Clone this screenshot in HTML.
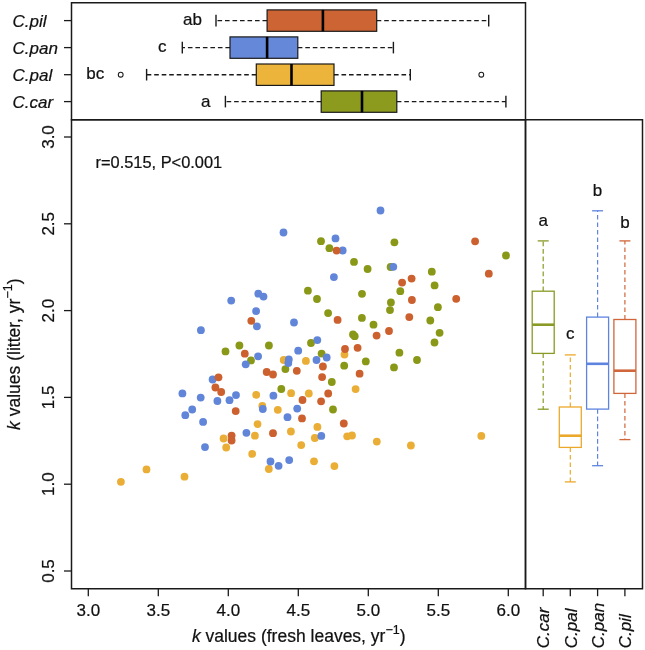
<!DOCTYPE html><html><head><meta charset="utf-8"><style>html,body{margin:0;padding:0;background:#fff;}svg{display:block;}text{font-family:"Liberation Sans",sans-serif;fill:#111;stroke:#111;stroke-width:0.22px;}svg{will-change:transform;}</style></head><body>
<svg width="645" height="650" viewBox="0 0 645 650">
<rect width="645" height="650" fill="#fff"/>
<rect x="71.5" y="2.75" width="454" height="117" fill="none" stroke="#1a1a1a" stroke-width="1.5"/>
<line x1="64" y1="20.6" x2="71.5" y2="20.6" stroke="#1a1a1a" stroke-width="1.3"/>
<text x="12.5" y="26.7" font-size="17" font-style="italic">C.pil</text>
<line x1="267.1" y1="20.6" x2="216" y2="20.6" stroke="#1a1a1a" stroke-width="1.4" stroke-dasharray="4.6 2.9"/>
<line x1="376.7" y1="20.6" x2="488.7" y2="20.6" stroke="#1a1a1a" stroke-width="1.4" stroke-dasharray="4.6 2.9"/>
<line x1="216" y1="14.8" x2="216" y2="26.400000000000002" stroke="#1a1a1a" stroke-width="1.4"/>
<line x1="488.7" y1="14.8" x2="488.7" y2="26.400000000000002" stroke="#1a1a1a" stroke-width="1.4"/>
<rect x="267.1" y="9.900000000000002" width="109.59999999999997" height="21.4" fill="#CC6434" stroke="#1a1a1a" stroke-width="1.2"/>
<line x1="322.9" y1="9.900000000000002" x2="322.9" y2="31.3" stroke="#000" stroke-width="2.6"/>
<line x1="64" y1="47.6" x2="71.5" y2="47.6" stroke="#1a1a1a" stroke-width="1.3"/>
<text x="12.5" y="53.7" font-size="17" font-style="italic">C.pan</text>
<line x1="230" y1="47.6" x2="182.3" y2="47.6" stroke="#1a1a1a" stroke-width="1.4" stroke-dasharray="4.6 2.9"/>
<line x1="297.8" y1="47.6" x2="393.4" y2="47.6" stroke="#1a1a1a" stroke-width="1.4" stroke-dasharray="4.6 2.9"/>
<line x1="182.3" y1="41.800000000000004" x2="182.3" y2="53.4" stroke="#1a1a1a" stroke-width="1.4"/>
<line x1="393.4" y1="41.800000000000004" x2="393.4" y2="53.4" stroke="#1a1a1a" stroke-width="1.4"/>
<rect x="230" y="36.900000000000006" width="67.80000000000001" height="21.4" fill="#6688D8" stroke="#1a1a1a" stroke-width="1.2"/>
<line x1="267.1" y1="36.900000000000006" x2="267.1" y2="58.3" stroke="#000" stroke-width="2.6"/>
<line x1="64" y1="74.7" x2="71.5" y2="74.7" stroke="#1a1a1a" stroke-width="1.3"/>
<text x="12.5" y="80.8" font-size="17" font-style="italic">C.pal</text>
<line x1="256.3" y1="74.7" x2="146.6" y2="74.7" stroke="#1a1a1a" stroke-width="1.4" stroke-dasharray="4.6 2.9"/>
<line x1="334" y1="74.7" x2="410.3" y2="74.7" stroke="#1a1a1a" stroke-width="1.4" stroke-dasharray="4.6 2.9"/>
<line x1="146.6" y1="68.9" x2="146.6" y2="80.5" stroke="#1a1a1a" stroke-width="1.4"/>
<line x1="410.3" y1="68.9" x2="410.3" y2="80.5" stroke="#1a1a1a" stroke-width="1.4"/>
<rect x="256.3" y="64.0" width="77.69999999999999" height="21.4" fill="#EDB43C" stroke="#1a1a1a" stroke-width="1.2"/>
<line x1="291.5" y1="64.0" x2="291.5" y2="85.4" stroke="#000" stroke-width="2.6"/>
<circle cx="120.7" cy="74.7" r="2.4" fill="none" stroke="#1a1a1a" stroke-width="1.05"/>
<circle cx="481.3" cy="74.7" r="2.4" fill="none" stroke="#1a1a1a" stroke-width="1.05"/>
<line x1="64" y1="101.6" x2="71.5" y2="101.6" stroke="#1a1a1a" stroke-width="1.3"/>
<text x="12.5" y="107.7" font-size="17" font-style="italic">C.car</text>
<line x1="321.2" y1="101.6" x2="225.4" y2="101.6" stroke="#1a1a1a" stroke-width="1.4" stroke-dasharray="4.6 2.9"/>
<line x1="396.8" y1="101.6" x2="505.9" y2="101.6" stroke="#1a1a1a" stroke-width="1.4" stroke-dasharray="4.6 2.9"/>
<line x1="225.4" y1="95.8" x2="225.4" y2="107.39999999999999" stroke="#1a1a1a" stroke-width="1.4"/>
<line x1="505.9" y1="95.8" x2="505.9" y2="107.39999999999999" stroke="#1a1a1a" stroke-width="1.4"/>
<rect x="321.2" y="90.89999999999999" width="75.60000000000002" height="21.4" fill="#8C9A1E" stroke="#1a1a1a" stroke-width="1.2"/>
<line x1="362" y1="90.89999999999999" x2="362" y2="112.3" stroke="#000" stroke-width="2.6"/>
<text x="183" y="24.9" font-size="17">ab</text>
<text x="158" y="52.3" font-size="17">c</text>
<text x="86.2" y="79.2" font-size="17">bc</text>
<text x="201" y="106.8" font-size="17">a</text>
<rect x="71.5" y="119.75" width="454" height="469" fill="none" stroke="#1a1a1a" stroke-width="1.5"/>
<line x1="64" y1="571.0" x2="71.5" y2="571.0" stroke="#1a1a1a" stroke-width="1.3"/>
<text transform="translate(54 571.0) rotate(-90)" text-anchor="middle" font-size="17">0.5</text>
<line x1="64" y1="484.2" x2="71.5" y2="484.2" stroke="#1a1a1a" stroke-width="1.3"/>
<text transform="translate(54 484.2) rotate(-90)" text-anchor="middle" font-size="17">1.0</text>
<line x1="64" y1="397.4" x2="71.5" y2="397.4" stroke="#1a1a1a" stroke-width="1.3"/>
<text transform="translate(54 397.4) rotate(-90)" text-anchor="middle" font-size="17">1.5</text>
<line x1="64" y1="310.6" x2="71.5" y2="310.6" stroke="#1a1a1a" stroke-width="1.3"/>
<text transform="translate(54 310.6) rotate(-90)" text-anchor="middle" font-size="17">2.0</text>
<line x1="64" y1="223.8" x2="71.5" y2="223.8" stroke="#1a1a1a" stroke-width="1.3"/>
<text transform="translate(54 223.8) rotate(-90)" text-anchor="middle" font-size="17">2.5</text>
<line x1="64" y1="137.0" x2="71.5" y2="137.0" stroke="#1a1a1a" stroke-width="1.3"/>
<text transform="translate(54 137.0) rotate(-90)" text-anchor="middle" font-size="17">3.0</text>
<line x1="88.3" y1="588.6" x2="88.3" y2="596.2" stroke="#1a1a1a" stroke-width="1.3"/>
<text x="88.3" y="615.6" text-anchor="middle" font-size="17">3.0</text>
<line x1="158.3" y1="588.6" x2="158.3" y2="596.2" stroke="#1a1a1a" stroke-width="1.3"/>
<text x="158.3" y="615.6" text-anchor="middle" font-size="17">3.5</text>
<line x1="228.3" y1="588.6" x2="228.3" y2="596.2" stroke="#1a1a1a" stroke-width="1.3"/>
<text x="228.3" y="615.6" text-anchor="middle" font-size="17">4.0</text>
<line x1="298.3" y1="588.6" x2="298.3" y2="596.2" stroke="#1a1a1a" stroke-width="1.3"/>
<text x="298.3" y="615.6" text-anchor="middle" font-size="17">4.5</text>
<line x1="368.3" y1="588.6" x2="368.3" y2="596.2" stroke="#1a1a1a" stroke-width="1.3"/>
<text x="368.3" y="615.6" text-anchor="middle" font-size="17">5.0</text>
<line x1="438.3" y1="588.6" x2="438.3" y2="596.2" stroke="#1a1a1a" stroke-width="1.3"/>
<text x="438.3" y="615.6" text-anchor="middle" font-size="17">5.5</text>
<line x1="508.3" y1="588.6" x2="508.3" y2="596.2" stroke="#1a1a1a" stroke-width="1.3"/>
<text x="508.3" y="615.6" text-anchor="middle" font-size="17">6.0</text>
<text x="298.7" y="642.2" text-anchor="middle" font-size="17.5"><tspan font-style="italic">k</tspan> values (fresh leaves, yr<tspan dy="-8.5" font-size="12.5">−1</tspan><tspan dy="8.5">)</tspan></text>
<text transform="translate(20 354.2) rotate(-90)" text-anchor="middle" font-size="17.5"><tspan font-style="italic">k</tspan> values (litter, yr<tspan dy="-8.5" font-size="12.5">−1</tspan><tspan dy="8.5">)</tspan></text>
<text x="95.5" y="168.2" font-size="16.4">r=0.515, P&lt;0.001</text>
<circle cx="321" cy="241.2" r="3.9" fill="#8A9818"/>
<circle cx="329.4" cy="248.2" r="3.9" fill="#8A9818"/>
<circle cx="354" cy="261.9" r="3.9" fill="#8A9818"/>
<circle cx="367.6" cy="269" r="3.9" fill="#8A9818"/>
<circle cx="307.9" cy="290.7" r="3.9" fill="#8A9818"/>
<circle cx="362" cy="293.8" r="3.9" fill="#8A9818"/>
<circle cx="317" cy="299" r="3.9" fill="#8A9818"/>
<circle cx="394.4" cy="242.3" r="3.9" fill="#8A9818"/>
<circle cx="506" cy="255.5" r="3.9" fill="#8A9818"/>
<circle cx="390.6" cy="267" r="3.9" fill="#8A9818"/>
<circle cx="431.8" cy="271.7" r="3.9" fill="#8A9818"/>
<circle cx="434.6" cy="285.4" r="3.9" fill="#8A9818"/>
<circle cx="400.3" cy="291.2" r="3.9" fill="#8A9818"/>
<circle cx="390.9" cy="302.5" r="3.9" fill="#8A9818"/>
<circle cx="390" cy="310.1" r="3.9" fill="#8A9818"/>
<circle cx="437.9" cy="307.2" r="3.9" fill="#8A9818"/>
<circle cx="328.1" cy="313.1" r="3.9" fill="#8A9818"/>
<circle cx="361.9" cy="317.9" r="3.9" fill="#8A9818"/>
<circle cx="430.3" cy="320.5" r="3.9" fill="#8A9818"/>
<circle cx="373.5" cy="324.7" r="3.9" fill="#8A9818"/>
<circle cx="439.6" cy="332.8" r="3.9" fill="#8A9818"/>
<circle cx="353" cy="334.5" r="3.9" fill="#8A9818"/>
<circle cx="354.7" cy="336.2" r="3.9" fill="#8A9818"/>
<circle cx="434.5" cy="342.5" r="3.9" fill="#8A9818"/>
<circle cx="399.4" cy="352.7" r="3.9" fill="#8A9818"/>
<circle cx="417" cy="360" r="3.9" fill="#8A9818"/>
<circle cx="365.8" cy="361.4" r="3.9" fill="#8A9818"/>
<circle cx="344.2" cy="365.7" r="3.9" fill="#8A9818"/>
<circle cx="394" cy="367.4" r="3.9" fill="#8A9818"/>
<circle cx="331.8" cy="382" r="3.9" fill="#8A9818"/>
<circle cx="281.3" cy="389" r="3.9" fill="#8A9818"/>
<circle cx="239.4" cy="345.5" r="3.9" fill="#8A9818"/>
<circle cx="268.9" cy="345.5" r="3.9" fill="#8A9818"/>
<circle cx="311" cy="343" r="3.9" fill="#8A9818"/>
<circle cx="321.6" cy="353.6" r="3.9" fill="#8A9818"/>
<circle cx="251" cy="360.4" r="3.9" fill="#8A9818"/>
<circle cx="285.4" cy="369.1" r="3.9" fill="#8A9818"/>
<circle cx="225.5" cy="351.4" r="3.9" fill="#8A9818"/>
<circle cx="333" cy="409.5" r="3.9" fill="#8A9818"/>
<circle cx="256.2" cy="394.8" r="3.9" fill="#EAAE36"/>
<circle cx="257.5" cy="424.1" r="3.9" fill="#EAAE36"/>
<circle cx="254.9" cy="435.7" r="3.9" fill="#EAAE36"/>
<circle cx="223.6" cy="438.5" r="3.9" fill="#EAAE36"/>
<circle cx="226.2" cy="447.5" r="3.9" fill="#EAAE36"/>
<circle cx="252.2" cy="453.9" r="3.9" fill="#EAAE36"/>
<circle cx="283.7" cy="360" r="3.9" fill="#EAAE36"/>
<circle cx="305.9" cy="360.9" r="3.9" fill="#EAAE36"/>
<circle cx="291.1" cy="393.2" r="3.9" fill="#EAAE36"/>
<circle cx="308.8" cy="393.5" r="3.9" fill="#EAAE36"/>
<circle cx="344.5" cy="354.6" r="3.9" fill="#EAAE36"/>
<circle cx="355.6" cy="389.1" r="3.9" fill="#EAAE36"/>
<circle cx="262.3" cy="405.9" r="3.9" fill="#EAAE36"/>
<circle cx="277.8" cy="409.8" r="3.9" fill="#EAAE36"/>
<circle cx="317.4" cy="426.9" r="3.9" fill="#EAAE36"/>
<circle cx="290.9" cy="431.5" r="3.9" fill="#EAAE36"/>
<circle cx="314.8" cy="438" r="3.9" fill="#EAAE36"/>
<circle cx="347.2" cy="436.3" r="3.9" fill="#EAAE36"/>
<circle cx="352" cy="435.5" r="3.9" fill="#EAAE36"/>
<circle cx="301.2" cy="445.1" r="3.9" fill="#EAAE36"/>
<circle cx="268.8" cy="469" r="3.9" fill="#EAAE36"/>
<circle cx="314" cy="461.3" r="3.9" fill="#EAAE36"/>
<circle cx="334.4" cy="466.1" r="3.9" fill="#EAAE36"/>
<circle cx="376.8" cy="441.6" r="3.9" fill="#EAAE36"/>
<circle cx="410.9" cy="445.5" r="3.9" fill="#EAAE36"/>
<circle cx="481.3" cy="435.9" r="3.9" fill="#EAAE36"/>
<circle cx="120.9" cy="481.8" r="3.9" fill="#EAAE36"/>
<circle cx="146.5" cy="469.4" r="3.9" fill="#EAAE36"/>
<circle cx="184.5" cy="476.7" r="3.9" fill="#EAAE36"/>
<circle cx="380.5" cy="210.5" r="3.9" fill="#6185D8"/>
<circle cx="283.5" cy="232.5" r="3.9" fill="#6185D8"/>
<circle cx="335.5" cy="238.4" r="3.9" fill="#6185D8"/>
<circle cx="342.7" cy="250.5" r="3.9" fill="#6185D8"/>
<circle cx="333.9" cy="277.1" r="3.9" fill="#6185D8"/>
<circle cx="393.3" cy="266.8" r="3.9" fill="#6185D8"/>
<circle cx="258.3" cy="293.7" r="3.9" fill="#6185D8"/>
<circle cx="263.5" cy="296.6" r="3.9" fill="#6185D8"/>
<circle cx="231.2" cy="300.6" r="3.9" fill="#6185D8"/>
<circle cx="200.9" cy="330.2" r="3.9" fill="#6185D8"/>
<circle cx="256.1" cy="311.1" r="3.9" fill="#6185D8"/>
<circle cx="256.9" cy="326.3" r="3.9" fill="#6185D8"/>
<circle cx="294" cy="322.5" r="3.9" fill="#6185D8"/>
<circle cx="317.3" cy="340.1" r="3.9" fill="#6185D8"/>
<circle cx="298.2" cy="350.7" r="3.9" fill="#6185D8"/>
<circle cx="258.1" cy="356.3" r="3.9" fill="#6185D8"/>
<circle cx="245.7" cy="364.3" r="3.9" fill="#6185D8"/>
<circle cx="326.7" cy="357.5" r="3.9" fill="#6185D8"/>
<circle cx="316.5" cy="360" r="3.9" fill="#6185D8"/>
<circle cx="288.8" cy="359.5" r="3.9" fill="#6185D8"/>
<circle cx="288.3" cy="363.1" r="3.9" fill="#6185D8"/>
<circle cx="212.6" cy="379.5" r="3.9" fill="#6185D8"/>
<circle cx="182.4" cy="393.4" r="3.9" fill="#6185D8"/>
<circle cx="200.7" cy="397.6" r="3.9" fill="#6185D8"/>
<circle cx="217.4" cy="401" r="3.9" fill="#6185D8"/>
<circle cx="229.5" cy="400.2" r="3.9" fill="#6185D8"/>
<circle cx="236" cy="395.1" r="3.9" fill="#6185D8"/>
<circle cx="192.2" cy="409.5" r="3.9" fill="#6185D8"/>
<circle cx="185.3" cy="415.2" r="3.9" fill="#6185D8"/>
<circle cx="203.1" cy="421.9" r="3.9" fill="#6185D8"/>
<circle cx="246.4" cy="432.8" r="3.9" fill="#6185D8"/>
<circle cx="205" cy="447.1" r="3.9" fill="#6185D8"/>
<circle cx="273.4" cy="395.7" r="3.9" fill="#6185D8"/>
<circle cx="262.8" cy="409" r="3.9" fill="#6185D8"/>
<circle cx="297.2" cy="408.6" r="3.9" fill="#6185D8"/>
<circle cx="287.5" cy="417.2" r="3.9" fill="#6185D8"/>
<circle cx="321.3" cy="435.9" r="3.9" fill="#6185D8"/>
<circle cx="270.5" cy="461.5" r="3.9" fill="#6185D8"/>
<circle cx="278.6" cy="465.8" r="3.9" fill="#6185D8"/>
<circle cx="289.2" cy="460.1" r="3.9" fill="#6185D8"/>
<circle cx="336.6" cy="250.6" r="3.9" fill="#CC602E"/>
<circle cx="475.1" cy="241.3" r="3.9" fill="#CC602E"/>
<circle cx="488.8" cy="273.7" r="3.9" fill="#CC602E"/>
<circle cx="411.6" cy="278.6" r="3.9" fill="#CC602E"/>
<circle cx="402.1" cy="282.6" r="3.9" fill="#CC602E"/>
<circle cx="411.9" cy="300" r="3.9" fill="#CC602E"/>
<circle cx="456.2" cy="298.8" r="3.9" fill="#CC602E"/>
<circle cx="337.6" cy="319.9" r="3.9" fill="#CC602E"/>
<circle cx="409.3" cy="317.1" r="3.9" fill="#CC602E"/>
<circle cx="389" cy="331" r="3.9" fill="#CC602E"/>
<circle cx="376.6" cy="335.6" r="3.9" fill="#CC602E"/>
<circle cx="345" cy="349" r="3.9" fill="#CC602E"/>
<circle cx="357.6" cy="347.8" r="3.9" fill="#CC602E"/>
<circle cx="359.6" cy="373.7" r="3.9" fill="#CC602E"/>
<circle cx="251.3" cy="320.8" r="3.9" fill="#CC602E"/>
<circle cx="244.8" cy="353.7" r="3.9" fill="#CC602E"/>
<circle cx="322.9" cy="366.5" r="3.9" fill="#CC602E"/>
<circle cx="296.8" cy="370.8" r="3.9" fill="#CC602E"/>
<circle cx="266.7" cy="372" r="3.9" fill="#CC602E"/>
<circle cx="273" cy="374.5" r="3.9" fill="#CC602E"/>
<circle cx="322.1" cy="377.1" r="3.9" fill="#CC602E"/>
<circle cx="328.2" cy="393.5" r="3.9" fill="#CC602E"/>
<circle cx="218.5" cy="377.3" r="3.9" fill="#CC602E"/>
<circle cx="215.4" cy="387.5" r="3.9" fill="#CC602E"/>
<circle cx="221.2" cy="392" r="3.9" fill="#CC602E"/>
<circle cx="235.7" cy="411.1" r="3.9" fill="#CC602E"/>
<circle cx="231.6" cy="435.6" r="3.9" fill="#CC602E"/>
<circle cx="231.6" cy="440.5" r="3.9" fill="#CC602E"/>
<circle cx="302.5" cy="400" r="3.9" fill="#CC602E"/>
<circle cx="321.1" cy="401.3" r="3.9" fill="#CC602E"/>
<circle cx="302" cy="418.4" r="3.9" fill="#CC602E"/>
<circle cx="343.8" cy="423.5" r="3.9" fill="#CC602E"/>
<circle cx="273" cy="433.2" r="3.9" fill="#CC602E"/>
<rect x="525.5" y="119.75" width="117" height="469" fill="none" stroke="#1a1a1a" stroke-width="1.5"/>
<line x1="543.2" y1="588.6" x2="543.2" y2="596.2" stroke="#1a1a1a" stroke-width="1.3"/>
<text transform="translate(549.4000000000001 648.2) rotate(-90)" font-size="17" font-style="italic">C.car</text>
<line x1="543.2" y1="291.2" x2="543.2" y2="240.9" stroke="#8A9A24" stroke-width="1.2" stroke-dasharray="4.6 2.9"/>
<line x1="543.2" y1="353.4" x2="543.2" y2="409.2" stroke="#8A9A24" stroke-width="1.2" stroke-dasharray="4.6 2.9"/>
<line x1="537.7" y1="240.9" x2="548.7" y2="240.9" stroke="#8A9A24" stroke-width="1.3"/>
<line x1="537.7" y1="409.2" x2="548.7" y2="409.2" stroke="#8A9A24" stroke-width="1.3"/>
<rect x="532.2" y="291.2" width="22" height="62.19999999999999" fill="#fff" stroke="#8A9A24" stroke-width="1.3"/>
<line x1="532.2" y1="324.7" x2="554.2" y2="324.7" stroke="#8A9A24" stroke-width="2.6"/>
<text x="543.2" y="226" text-anchor="middle" font-size="17">a</text>
<line x1="570.3" y1="588.6" x2="570.3" y2="596.2" stroke="#1a1a1a" stroke-width="1.3"/>
<text transform="translate(576.5 648.2) rotate(-90)" font-size="17" font-style="italic">C.pal</text>
<line x1="570.3" y1="407.0" x2="570.3" y2="354.9" stroke="#EBA92C" stroke-width="1.2" stroke-dasharray="4.6 2.9"/>
<line x1="570.3" y1="447.4" x2="570.3" y2="481.9" stroke="#EBA92C" stroke-width="1.2" stroke-dasharray="4.6 2.9"/>
<line x1="564.8" y1="354.9" x2="575.8" y2="354.9" stroke="#EBA92C" stroke-width="1.3"/>
<line x1="564.8" y1="481.9" x2="575.8" y2="481.9" stroke="#EBA92C" stroke-width="1.3"/>
<rect x="559.3" y="407.0" width="22" height="40.39999999999998" fill="#fff" stroke="#EBA92C" stroke-width="1.3"/>
<line x1="559.3" y1="435.7" x2="581.3" y2="435.7" stroke="#EBA92C" stroke-width="2.6"/>
<text x="570.3" y="339" text-anchor="middle" font-size="17">c</text>
<line x1="597.6" y1="588.6" x2="597.6" y2="596.2" stroke="#1a1a1a" stroke-width="1.3"/>
<text transform="translate(603.8000000000001 648.2) rotate(-90)" font-size="17" font-style="italic">C.pan</text>
<line x1="597.6" y1="317.1" x2="597.6" y2="210.8" stroke="#5F84E0" stroke-width="1.2" stroke-dasharray="4.6 2.9"/>
<line x1="597.6" y1="409.1" x2="597.6" y2="465.7" stroke="#5F84E0" stroke-width="1.2" stroke-dasharray="4.6 2.9"/>
<line x1="592.1" y1="210.8" x2="603.1" y2="210.8" stroke="#5F84E0" stroke-width="1.3"/>
<line x1="592.1" y1="465.7" x2="603.1" y2="465.7" stroke="#5F84E0" stroke-width="1.3"/>
<rect x="586.6" y="317.1" width="22" height="92.0" fill="#fff" stroke="#5F84E0" stroke-width="1.3"/>
<line x1="586.6" y1="363.8" x2="608.6" y2="363.8" stroke="#5F84E0" stroke-width="2.6"/>
<text x="597.6" y="195.7" text-anchor="middle" font-size="17">b</text>
<line x1="624.9" y1="588.6" x2="624.9" y2="596.2" stroke="#1a1a1a" stroke-width="1.3"/>
<text transform="translate(631.1 648.2) rotate(-90)" font-size="17" font-style="italic">C.pil</text>
<line x1="624.9" y1="319.5" x2="624.9" y2="240.9" stroke="#D0663A" stroke-width="1.2" stroke-dasharray="4.6 2.9"/>
<line x1="624.9" y1="393.4" x2="624.9" y2="439.6" stroke="#D0663A" stroke-width="1.2" stroke-dasharray="4.6 2.9"/>
<line x1="619.4" y1="240.9" x2="630.4" y2="240.9" stroke="#D0663A" stroke-width="1.3"/>
<line x1="619.4" y1="439.6" x2="630.4" y2="439.6" stroke="#D0663A" stroke-width="1.3"/>
<rect x="613.9" y="319.5" width="22" height="73.89999999999998" fill="#fff" stroke="#D0663A" stroke-width="1.3"/>
<line x1="613.9" y1="370.7" x2="635.9" y2="370.7" stroke="#D0663A" stroke-width="2.6"/>
<text x="624.9" y="227.7" text-anchor="middle" font-size="17">b</text>
</svg></body></html>
